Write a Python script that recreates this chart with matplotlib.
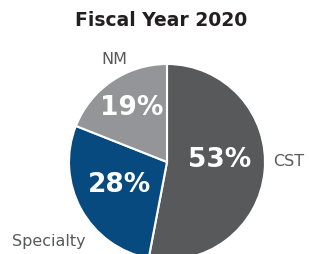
import matplotlib
matplotlib.use("Agg")
import matplotlib.pyplot as plt

categories = ["CST", "Specialty", "NM"]
values = [53, 28, 19]
pct_labels = ["53%", "28%", "19%"]
colors = ["#58595b", "#064a80", "#939598"]

W, H = 309, 255
fig = plt.figure(figsize=(W / 100, H / 100), dpi=100)
cx, cy, r = 167, 163, 98
ax = fig.add_axes([(cx - r) / W, (H - cy - r) / H, 2 * r / W, 2 * r / H])

wedges, texts, autotexts = ax.pie(
    values, colors=colors, startangle=90, counterclock=False, radius=1,
    labels=categories, autopct=lambda p: "",
    wedgeprops=dict(edgecolor="white", linewidth=1.5),
    textprops=dict(clip_on=False))
ax.set_xlim(-1, 1)
ax.set_ylim(-1, 1)
ax.set_aspect("equal")
ax.axis("off")

def px(p):
    return ((p[0] - cx) / r, (cy - p[1]) / r)

pct_pos = [(220, 160), (120, 185), (132, 108)]
lab_pos = [(289, 161), (49, 242), (114, 60)]
for t, s, p in zip(autotexts, pct_labels, pct_pos):
    t.set_text(s)
    t.set_position(px(p))
    t.set_ha("center"); t.set_va("center")
    t.set_color("white"); t.set_fontsize(19); t.set_fontweight("bold")
    t.set_family("DejaVu Sans")
for t, p in zip(texts, lab_pos):
    t.set_position(px(p))
    t.set_ha("center"); t.set_va("center")
    t.set_color("#58595b"); t.set_fontsize(11.5); t.set_family("DejaVu Sans")

fig.text(161 / W, 1 - 21 / H, "Fiscal Year 2020", ha="center", va="center",
         fontsize=13.5, fontweight="bold", family="DejaVu Sans", color="#231f20")

fig.savefig("out.png", dpi=100)
